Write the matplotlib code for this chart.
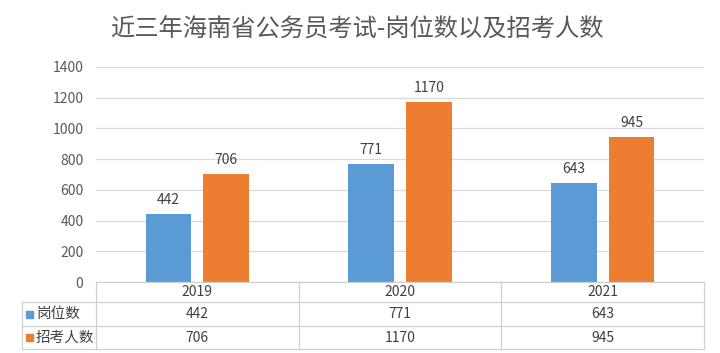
import matplotlib.pyplot as plt
import numpy as np
from matplotlib.lines import Line2D
from matplotlib.patches import Rectangle
from matplotlib.transforms import blended_transform_factory

plt.rcParams['font.family'] = ['Noto Sans CJK SC', 'DejaVu Sans']

# data
years = ["2019", "2020", "2021"]
series_names = ["岗位数", "招考人数"]
posts = [442, 771, 643]
applicants = [706, 1170, 945]
colors = ["#5B9BD5", "#ED7D31"]
title = "近三年海南省公务员考试-岗位数以及招考人数"

W, H = 720, 353
fig = plt.figure(figsize=(W / 100, H / 100), dpi=100)

# plot area in pixels
x0, x1 = 96, 704
y_top, y_bot = 67, 282
ax = fig.add_axes([x0 / W, 1 - y_bot / H, (x1 - x0) / W, (y_bot - y_top) / H])

x = np.arange(len(years))
bw = 0.225
off = 0.142
b1 = ax.bar(x - off, posts, bw, color=colors[0])
b2 = ax.bar(x + off, applicants, bw, color=colors[1])
for bars in (b1, b2):
    ax.bar_label(bars, padding=5, fontsize=10, color="#404040")

ax.set_xlim(-0.5, len(years) - 0.5)
ax.set_ylim(0, 1400)
ax.set_yticks(range(0, 1401, 200))
ax.yaxis.grid(True, color="#D9D9D9", lw=0.9)
ax.set_axisbelow(True)
ax.set_xticks([])
ax.tick_params(axis="y", length=0, pad=9, labelsize=10, labelcolor="#595959")
for s in ax.spines.values():
    s.set_visible(False)

fig.text(357 / W, 1 - 30 / H, title, ha="center", va="center",
         fontsize=17.5, color="#595959")

# data table under the axis
line_c = "#D0D0D0"
def fy(py):
    return 1 - py / H

def hline(xa, xb, py):
    fig.add_artist(Line2D([xa / W, xb / W], [fy(py), fy(py)], color=line_c, lw=0.9))

def vline(px, ya, yb):
    fig.add_artist(Line2D([px / W, px / W], [fy(ya), fy(yb)], color=line_c, lw=0.9))

rows_y = [282, 302, 326, 349]
hline(x0, x1, rows_y[0])
for py in rows_y[1:]:
    hline(22, x1, py)
vline(22, 302, 349)
cw = (x1 - x0) / len(years)
for i in range(len(years) + 1):
    vline(x0 + i * cw, 282, 349)

tr = blended_transform_factory(ax.transData, fig.transFigure)
for i, yr in enumerate(years):
    fig.text(x[i], fy(292), yr, transform=tr, ha="center", va="center",
             fontsize=10, color="#404040")
    fig.text(x[i], fy(314), str(posts[i]), transform=tr, ha="center", va="center",
             fontsize=10, color="#404040")
    fig.text(x[i], fy(337.5), str(applicants[i]), transform=tr, ha="center", va="center",
             fontsize=10, color="#404040")

for j, (name, cy) in enumerate(zip(series_names, [314, 337.5])):
    fig.add_artist(Rectangle((26 / W, fy(cy + 3.5)), 7 / W, 7 / H,
                             transform=fig.transFigure, color=colors[j]))
    fig.text(36 / W, fy(cy), name, ha="left", va="center",
             fontsize=10.5, color="#404040")

fig.savefig("out.png", dpi=100)
